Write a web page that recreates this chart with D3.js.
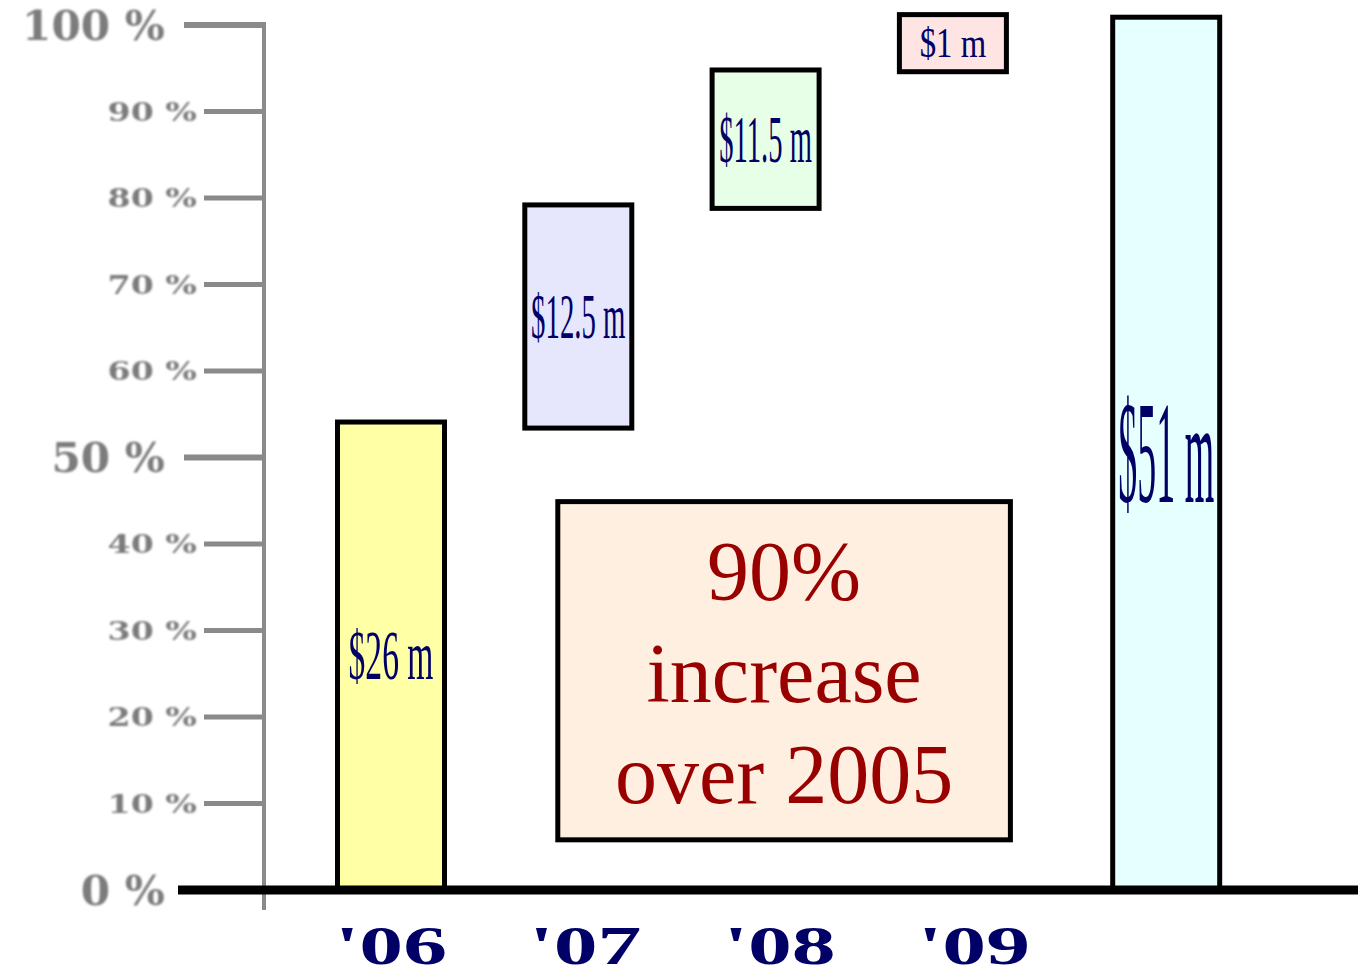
<!DOCTYPE html>
<html><head><meta charset="utf-8">
<script src="https://cdn.jsdelivr.net/npm/d3@7"></script>
<style>body{margin:0;background:#fff;overflow:hidden}</style>
</head><body><svg id="c" width="1358" height="977"></svg>
<script>
// ---- data ----
const categories = ["'06", "'07", "'08", "'09", "Total"];
const yearLabels = ["'06", "'07", "'08", "'09"];
const valueLabels = ["$26 m", "$12.5 m", "$11.5 m", "$1 m", "$51 m"];
const barStart = [0, 53.4, 78.8, 94.6, 0];
const barEnd = [54.1, 79.2, 94.8, 101.2, 100.9];
const yTicks = [0, 10, 20, 30, 40, 50, 60, 70, 80, 90, 100];
const yTickLabels = ["0 %", "10 %", "20 %", "30 %", "40 %", "50 %", "60 %", "70 %", "80 %", "90 %", "100 %"];
const majorTicks = [0, 50, 100];
const noteLines = ["90%", "increase", "over 2005"];

// ---- styles ----
const fills = ["#ffffa6", "#e6e6fc", "#e6ffe6", "#ffe4e4", "#e6ffff"];
const labelStyle = [
  {fs: 70, sx: 0.48}, {fs: 64, sx: 0.45}, {fs: 68, sx: 0.42}, {fs: 42, sx: 0.78}, {fs: 146, sx: 0.26}
];
const navy = "#000066";

const svg = d3.select("#c");
const defs = svg.append("defs");
defs.append("filter").attr("id", "soft")
  .attr("x", "-10%").attr("y", "-20%").attr("width", "120%").attr("height", "140%")
  .append("feGaussianBlur").attr("stdDeviation", 0.8);

const y = d3.scaleLinear().domain([0, 100]).range([890, 25]);

// bar positions: years equally spaced, total set apart
const step = 187.3, bw = 107;
const x = d3.scaleBand().domain(categories.slice(0, 4))
  .range([391 - step / 2, 391 - step / 2 + 4 * step]).paddingInner(1 - bw / step).paddingOuter((1 - bw / step) / 2);
const totalGap = 26;
const barX = c => c === "Total" ? x("'09") + step + totalGap : x(c);
const barW = x.bandwidth();

// ---- y axis ----
const axisX = 264;
const gA = svg.append("g");
gA.append("line").attr("x1", axisX).attr("x2", axisX).attr("y1", 22).attr("y2", 910)
  .attr("stroke", "#8a8a8a").attr("stroke-width", 4);
yTicks.forEach((t, i) => {
  const major = majorTicks.includes(t);
  if (t !== 0) {
    gA.append("line").attr("x1", major ? 184 : 204).attr("x2", axisX).attr("y1", y(t)).attr("y2", y(t))
      .attr("stroke", "#8a8a8a").attr("stroke-width", major ? 6 : 5);
  }
  const tx = major ? 165 : 197;
  const fs = major ? 41 : 26;
  const sx = major ? 1.03 : 1.28;
  gA.append("text")
    .attr("transform", `translate(${tx},${y(t) + fs * 0.36}) scale(${sx},1)`)
    .attr("text-anchor", "end")
    .attr("font-family", "'DejaVu Serif', serif").attr("font-weight", "bold")
    .attr("font-size", fs).attr("fill", "#7c7c7c").attr("filter", "url(#soft)")
    .text(yTickLabels[i]);
});

// ---- bars ----
const gB = svg.append("g");
categories.forEach((c, i) => {
  const x0 = barX(c);
  gB.append("rect")
    .attr("x", x0).attr("width", barW)
    .attr("y", y(barEnd[i])).attr("height", y(barStart[i]) - y(barEnd[i]))
    .attr("fill", fills[i]).attr("stroke", "#000").attr("stroke-width", 5);
  const st = labelStyle[i];
  const cy = (y(barEnd[i]) + y(barStart[i])) / 2;
  gB.append("text")
    .attr("transform", `translate(${x0 + barW / 2},${cy + st.fs * 0.33}) scale(${st.sx},1)`)
    .attr("text-anchor", "middle")
    .attr("font-family", "'Liberation Serif', serif")
    .attr("font-size", st.fs).attr("fill", navy)
    .text(valueLabels[i]);
});

// ---- note box ----
const boxX0 = x("'07") + 33, boxX1 = x("'09") + barW + 4;
const boxY0 = y(44.9), boxY1 = y(5.8);
svg.append("rect").attr("x", boxX0).attr("y", boxY0).attr("width", boxX1 - boxX0).attr("height", boxY1 - boxY0)
  .attr("fill", "#ffefe0").attr("stroke", "#000").attr("stroke-width", 5);
const cxNote = (boxX0 + boxX1) / 2;
noteLines.forEach((t, i) => {
  svg.append("text").attr("x", cxNote).attr("y", 600 + i * 101.5)
    .attr("text-anchor", "middle")
    .attr("font-family", "'Liberation Serif', serif").attr("font-size", 84)
    .attr("fill", "#990000").text(t);
});

// ---- baseline ----
svg.append("line").attr("x1", 178).attr("x2", 1358).attr("y1", y(0)).attr("y2", y(0))
  .attr("stroke", "#000").attr("stroke-width", 9);

// ---- x labels ----
const xl = d3.scalePoint().domain(yearLabels).range([391, 974]);
yearLabels.forEach(c => {
  svg.append("text").attr("x", xl(c)).attr("y", 964)
    .attr("text-anchor", "middle")
    .attr("font-family", "'Liberation Serif', serif").attr("font-weight", "bold")
    .attr("font-size", 55).attr("fill", navy)
    .attr("textLength", 112).attr("lengthAdjust", "spacingAndGlyphs")
    .text(c);
});
</script></body></html>
